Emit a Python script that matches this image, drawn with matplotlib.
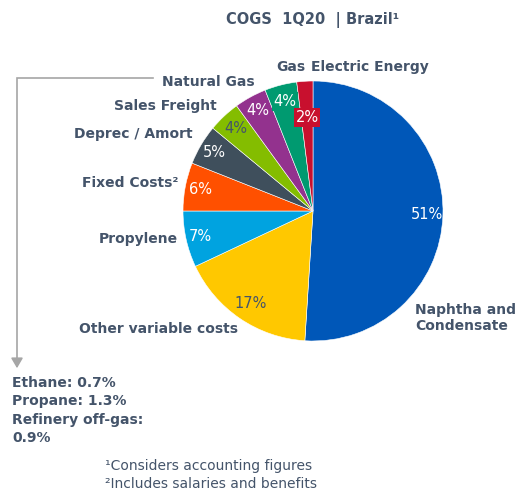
import numpy as np
import matplotlib.pyplot as plt

# Data
categories = ["Naphtha and\nCondensate", "Other variable costs", "Propylene", "Fixed Costs²",
              "Deprec / Amort", "Sales Freight", "Natural Gas", "Gas", "Electric Energy"]
shares = [51, 17, 7, 6, 5, 4, 4, 4, 2]
pct_labels = ["51%", "17%", "7%", "6%", "5%", "4%", "4%", "4%", "2%"]
other_feedstock = ["Ethane: 0.7%", "Propane: 1.3%", "Refinery off-gas:", "0.9%"]
footnotes = ["¹Considers accounting figures", "²Includes salaries and benefits"]

COLORS = ["#0057b8", "#ffc800", "#00a3e0", "#ff5000", "#3f4f5c",
          "#84bd00", "#93328e", "#009a70", "#c8102e"]
PCT_COLORS = ["white", "#44546a", "white", "white", "white", "#44546a", "white", "white", "white"]
PCT_RADIUS = [0.88, 0.86, 0.89, 0.88, 0.88, 0.87, 0.88, 0.87, 0.72]
PCT_BOX = [None, None, None, None, None, None, None, "#009a70", "#c8102e"]
TEXT = "#44546a"
LINE = "#a6a6a6"

W, H = 518, 492
fig = plt.figure(figsize=(W / 100, H / 100), dpi=100, facecolor="white")

# Pie axes: centre (313, 211) px, radius 130 px
cx, cy, R = 313, 211, 130
ax = fig.add_axes([(cx - R) / W, (H - cy - R) / H, 2 * R / W, 2 * R / H])
wedges, _ = ax.pie(shares, colors=COLORS, startangle=90, counterclock=False, radius=1,
                   wedgeprops=dict(edgecolor="white", linewidth=0.4))
ax.set_xlim(-1, 1)
ax.set_ylim(-1, 1)
ax.axis("off")

for w, lab, col, r, box in zip(wedges, pct_labels, PCT_COLORS, PCT_RADIUS, PCT_BOX):
    mid = np.deg2rad((w.theta1 + w.theta2) / 2)
    kw = {}
    if box:
        kw["bbox"] = dict(boxstyle="square,pad=0.12", facecolor=box, edgecolor="none")
    ax.text(r * np.cos(mid), r * np.sin(mid), lab, ha="center", va="center",
            fontsize=10.5, color=col, **kw)

# Overlay in pixel coordinates for the annotations
ov = fig.add_axes([0, 0, 1, 1], facecolor="none")
ov.set_xlim(0, W)
ov.set_ylim(H, 0)
ov.axis("off")

bold = dict(fontsize=10, fontweight="bold", color=TEXT)
ov.text(313, 20, "COGS  1Q20  | Brazil¹", ha="center", va="center", fontsize=10.5,
        fontweight="bold", color=TEXT)

ov.text(415, 318, categories[0], ha="left", va="center", linespacing=1.25, **bold)
ov.text(79, 329, categories[1], ha="left", va="center", **bold)
ov.text(178, 239, categories[2], ha="right", va="center", **bold)
ov.text(178, 183, categories[3], ha="right", va="center", **bold)
ov.text(193, 134, categories[4], ha="right", va="center", **bold)
ov.text(217, 106, categories[5], ha="right", va="center", **bold)
ov.text(255, 82, categories[6], ha="right", va="center", **bold)
ov.text(276, 67, categories[7], ha="left", va="center", **bold)
ov.text(311, 67, categories[8], ha="left", va="center", **bold)

# Bracket arrow to the other feedstocks note
ov.plot([153, 17, 17], [78, 78, 362], color=LINE, lw=1.2, solid_joinstyle="miter")
ov.annotate("", xy=(17, 371), xytext=(17, 360),
            arrowprops=dict(arrowstyle="-|>,head_width=0.35,head_length=0.6",
                            color=LINE, lw=1.2))

for i, t in enumerate(other_feedstock):
    ov.text(12, 383 + i * 18.3, t, ha="left", va="center", **bold)

for i, t in enumerate(footnotes):
    ov.text(105, 466 + i * 18, t, ha="left", va="center", fontsize=10, color=TEXT)

fig.savefig("out.png", dpi=100, facecolor="white")
